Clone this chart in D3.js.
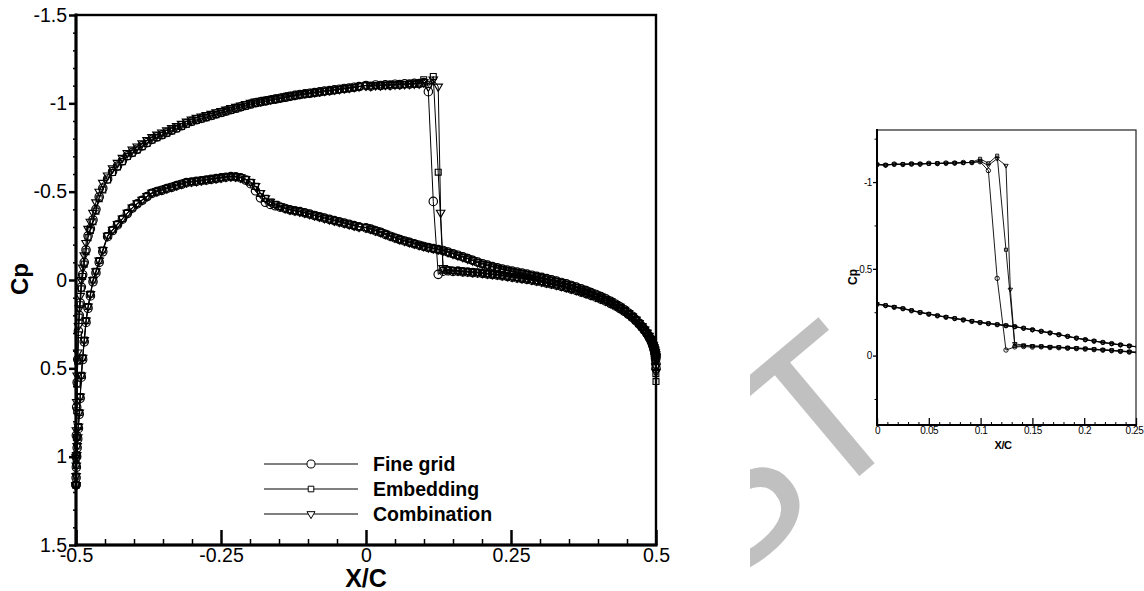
<!DOCTYPE html>
<html><head><meta charset="utf-8">
<script src="https://cdn.jsdelivr.net/npm/d3@7"></script>
<style>body{margin:0;background:#fff}svg text{font-family:"Liberation Sans",Arial,sans-serif}</style>
</head><body>
<svg id="c" width="1144" height="591"></svg>
<script>
// ---------- DATA ----------
const seriesNames = ["Fine grid", "Embedding", "Combination"];
const seriesSymbols = ["circle", "square", "triangle"];

// shared chordwise stations X/C : leading edge (19), mid (52), inset range (32), trailing part (40)
const xGrid = [
-0.5,-0.4998,-0.4994,-0.4988,-0.498,-0.497,-0.4958,-0.4944,-0.4928,-0.4908,-0.4885,-0.4858,-0.4827,-0.4792,-0.4752,-0.4707,-0.4656,-0.46,-0.4538,
-0.4455,-0.437,-0.4285,-0.42,-0.4115,-0.403,-0.3945,-0.386,-0.3775,-0.369,
-0.3605,-0.352,-0.3435,-0.335,-0.3265,-0.318,-0.3095,-0.301,-0.2925,-0.284,
-0.2755,-0.267,-0.2585,-0.25,-0.2415,-0.233,-0.2245,-0.216,-0.2075,-0.199,
-0.1905,-0.182,-0.1735,-0.165,-0.1565,-0.148,-0.1395,-0.131,-0.1225,-0.114,
-0.1055,-0.097,-0.0885,-0.08,-0.0715,-0.063,-0.0545,-0.046,-0.0375,-0.029,
-0.0205,-0.012,
0,0.0083,0.0166,0.025,0.0333,0.0416,0.05,0.0583,0.0666,0.075,
0.0833,0.0916,0.0995,0.1075,0.116,0.1245,0.1287,0.133,0.1415,0.15,
0.1585,0.167,0.1755,0.184,0.1925,0.201,0.2095,0.218,0.2265,0.235,
0.2435,0.252,
0.2605,0.269,0.2775,0.286,0.2945,0.303,0.3115,0.32,0.3285,0.337,
0.3455,0.354,0.3625,0.371,0.3795,0.388,0.3965,0.405,0.4135,0.422,
0.43,0.438,0.4455,0.4525,0.459,0.465,0.4705,0.4755,0.48,0.484,
0.4875,0.4905,0.493,0.495,0.4966,0.4978,0.4987,0.4994,0.4998,0.5];

// upper surface Cp
const cpUpFine = [
1.16,1.00,0.88,0.72,0.58,0.45,0.29,0.20,0.13,0.04,-0.03,-0.10,-0.17,-0.25,-0.29,-0.34,-0.40,-0.47,-0.52,
-0.572,-0.614,-0.645,-0.675,-0.703,-0.722,-0.740,-0.759,-0.777,-0.796,
-0.810,-0.822,-0.835,-0.848,-0.860,-0.873,-0.886,-0.898,-0.907,-0.915,
-0.923,-0.931,-0.940,-0.948,-0.956,-0.964,-0.972,-0.980,-0.988,-0.996,
-1.003,-1.008,-1.013,-1.019,-1.024,-1.029,-1.034,-1.040,-1.045,-1.050,
-1.054,-1.057,-1.061,-1.065,-1.069,-1.072,-1.076,-1.080,-1.084,-1.087,
-1.091,-1.095,
-1.100,-1.097,-1.104,-1.101,-1.105,-1.103,-1.108,-1.106,-1.110,-1.109,
-1.113,-1.112,-1.117,-1.066,-0.445,-0.032,null,-0.050,-0.052,-0.049,
-0.050,-0.046,-0.045,-0.042,-0.040,-0.037,-0.034,-0.031,-0.028,-0.024,
-0.020,-0.016,
-0.012,-0.008,-0.004,0.001,0.006,0.011,0.017,0.023,0.029,0.036,
0.043,0.051,0.059,0.068,0.077,0.087,0.097,0.108,0.120,0.133,
0.147,0.162,0.178,0.195,0.212,0.230,0.248,0.266,0.284,0.302,
0.320,0.338,0.356,0.374,0.392,0.41,0.43,0.45,0.475,0.50];
const cpUpEmb = [
1.16,1.01,0.89,0.74,0.59,0.46,0.31,0.21,0.14,0.05,-0.02,-0.09,-0.16,-0.24,-0.28,-0.33,-0.39,-0.46,-0.51,
-0.566,-0.608,-0.640,-0.670,-0.699,-0.718,-0.736,-0.755,-0.773,-0.792,
-0.806,-0.818,-0.831,-0.844,-0.856,-0.869,-0.882,-0.894,-0.903,-0.911,
-0.919,-0.927,-0.936,-0.944,-0.952,-0.960,-0.968,-0.976,-0.984,-0.992,
-0.999,-1.005,-1.010,-1.016,-1.021,-1.026,-1.031,-1.037,-1.042,-1.047,
-1.051,-1.055,-1.059,-1.063,-1.067,-1.070,-1.074,-1.078,-1.082,-1.086,
-1.090,-1.094,
-1.102,-1.099,-1.101,-1.104,-1.102,-1.106,-1.105,-1.109,-1.107,-1.111,
-1.110,-1.114,-1.134,-1.108,-1.152,-0.610,null,-0.055,-0.057,-0.054,
-0.053,-0.050,-0.048,-0.045,-0.043,-0.040,-0.036,-0.033,-0.030,-0.026,
-0.022,-0.018,
-0.014,-0.010,-0.006,-0.001,0.004,0.009,0.015,0.021,0.027,0.034,
0.041,0.049,0.057,0.066,0.075,0.085,0.095,0.106,0.118,0.131,
0.145,0.160,0.176,0.193,0.210,0.228,0.246,0.265,0.284,0.303,
0.322,0.342,0.362,0.383,0.405,0.428,0.45,0.49,0.53,0.575];
const cpUpComb = [
1.16,1.00,0.85,0.69,0.54,0.41,0.26,0.16,0.09,0.00,-0.07,-0.14,-0.21,-0.29,-0.33,-0.38,-0.44,-0.50,-0.55,
-0.592,-0.632,-0.663,-0.692,-0.719,-0.738,-0.756,-0.774,-0.792,-0.810,
-0.823,-0.835,-0.848,-0.860,-0.872,-0.884,-0.897,-0.909,-0.918,-0.926,
-0.934,-0.941,-0.950,-0.957,-0.965,-0.973,-0.980,-0.988,-0.996,-1.003,
-1.010,-1.015,-1.020,-1.025,-1.030,-1.035,-1.040,-1.045,-1.049,-1.054,
-1.058,-1.061,-1.065,-1.068,-1.072,-1.075,-1.079,-1.082,-1.086,-1.089,
-1.093,-1.097,
-1.101,-1.098,-1.103,-1.102,-1.106,-1.104,-1.107,-1.108,-1.109,-1.110,
-1.112,-1.113,-1.120,-1.096,-1.135,-1.095,-0.381,-0.068,-0.060,-0.056,
-0.054,-0.051,-0.049,-0.046,-0.044,-0.041,-0.037,-0.034,-0.031,-0.027,
-0.023,-0.019,
-0.015,-0.011,-0.007,-0.002,0.003,0.008,0.014,0.020,0.026,0.033,
0.040,0.048,0.056,0.065,0.074,0.084,0.094,0.105,0.117,0.130,
0.144,0.159,0.175,0.192,0.209,0.227,0.245,0.263,0.281,0.299,
0.317,0.335,0.353,0.371,0.390,0.41,0.43,0.46,0.49,0.52];

// lower surface Cp
const cpLoFine = [
1.16,1.12,1.06,1.00,0.95,0.90,0.84,0.76,0.67,0.55,0.45,0.35,0.24,0.16,0.09,0.01,-0.04,-0.10,-0.16,
-0.245,-0.280,-0.312,-0.344,-0.376,-0.407,-0.431,-0.451,-0.472,-0.491,
-0.500,-0.508,-0.517,-0.525,-0.534,-0.542,-0.551,-0.555,-0.558,-0.562,
-0.566,-0.570,-0.574,-0.578,-0.582,-0.585,-0.584,-0.578,-0.566,-0.545,
-0.505,-0.465,-0.440,-0.428,-0.420,-0.413,-0.405,-0.397,-0.392,-0.387,
-0.380,-0.373,-0.365,-0.358,-0.350,-0.343,-0.336,-0.329,-0.322,-0.315,
-0.308,-0.301,
-0.295,-0.288,-0.278,-0.270,-0.258,-0.248,-0.238,-0.229,-0.221,-0.213,
-0.205,-0.197,-0.190,-0.184,-0.178,-0.172,null,-0.167,-0.158,-0.149,
-0.140,-0.131,-0.121,-0.111,-0.101,-0.092,-0.084,-0.076,-0.069,-0.062,
-0.056,-0.050,
-0.045,-0.039,-0.033,-0.027,-0.021,-0.015,-0.008,-0.001,0.006,0.014,
0.022,0.031,0.040,0.050,0.060,0.071,0.082,0.094,0.107,0.121,
0.136,0.152,0.169,0.187,0.205,0.224,0.243,0.262,0.280,0.298,
0.316,0.333,0.350,0.366,0.381,0.395,0.407,0.417,0.425,0.43];
const cpLoEmb = [
1.16,1.11,1.05,0.99,0.94,0.89,0.83,0.75,0.66,0.54,0.44,0.34,0.23,0.15,0.08,0.0,-0.05,-0.11,-0.17,
-0.250,-0.284,-0.316,-0.347,-0.379,-0.409,-0.433,-0.453,-0.474,-0.493,
-0.502,-0.510,-0.519,-0.527,-0.536,-0.544,-0.553,-0.557,-0.560,-0.564,
-0.568,-0.572,-0.576,-0.580,-0.584,-0.586,-0.585,-0.580,-0.570,-0.553,
-0.530,-0.490,-0.462,-0.442,-0.428,-0.416,-0.406,-0.398,-0.393,-0.388,
-0.381,-0.374,-0.366,-0.359,-0.351,-0.344,-0.337,-0.330,-0.323,-0.316,
-0.309,-0.302,
-0.297,-0.289,-0.280,-0.271,-0.260,-0.249,-0.240,-0.230,-0.222,-0.214,
-0.206,-0.198,-0.191,-0.185,-0.179,-0.173,null,-0.166,-0.157,-0.148,
-0.139,-0.130,-0.120,-0.110,-0.100,-0.091,-0.083,-0.075,-0.068,-0.061,
-0.055,-0.049,
-0.044,-0.038,-0.032,-0.026,-0.020,-0.014,-0.007,0.000,0.007,0.015,
0.023,0.032,0.041,0.051,0.061,0.072,0.083,0.095,0.108,0.122,
0.137,0.153,0.170,0.188,0.206,0.225,0.244,0.263,0.281,0.299,
0.317,0.334,0.351,0.366,0.379,0.390,0.399,0.405,0.409,0.41];
const cpLoComb = [
1.16,1.11,1.05,0.99,0.94,0.89,0.83,0.75,0.66,0.54,0.44,0.34,0.23,0.15,0.08,0.0,-0.05,-0.11,-0.17,
-0.251,-0.285,-0.317,-0.348,-0.380,-0.410,-0.434,-0.454,-0.475,-0.494,
-0.503,-0.511,-0.520,-0.528,-0.537,-0.545,-0.554,-0.558,-0.561,-0.565,
-0.569,-0.573,-0.577,-0.581,-0.585,-0.587,-0.586,-0.581,-0.571,-0.555,
-0.532,-0.492,-0.463,-0.443,-0.429,-0.417,-0.407,-0.399,-0.393,-0.388,
-0.381,-0.374,-0.366,-0.359,-0.351,-0.344,-0.337,-0.330,-0.323,-0.316,
-0.309,-0.302,
-0.298,-0.290,-0.281,-0.272,-0.261,-0.250,-0.241,-0.231,-0.223,-0.215,
-0.207,-0.199,-0.192,-0.186,-0.180,-0.174,null,-0.167,-0.158,-0.149,
-0.140,-0.131,-0.121,-0.111,-0.101,-0.092,-0.084,-0.076,-0.069,-0.062,
-0.056,-0.050,
-0.045,-0.039,-0.033,-0.027,-0.021,-0.015,-0.008,-0.001,0.006,0.014,
0.022,0.031,0.040,0.050,0.060,0.071,0.082,0.094,0.107,0.121,
0.136,0.152,0.169,0.187,0.205,0.224,0.243,0.262,0.280,0.298,
0.316,0.333,0.350,0.366,0.381,0.395,0.408,0.42,0.435,0.45];

// axes ticks / labels
const xTicks = [-0.5, -0.25, 0, 0.25, 0.5];
const xTickLabels = ["-0.5", "-0.25", "0", "0.25", "0.5"];
const yTicks = [-1.5, -1, -0.5, 0, 0.5, 1, 1.5];
const yTickLabels = ["-1.5", "-1", "-0.5", "0", "0.5", "1", "1.5"];
const insetXTicks = [0, 0.05, 0.1, 0.15, 0.2, 0.25];
const insetXTickLabels = ["0", "0.05", "0.1", "0.15", "0.2", "0.25"];
const insetYTicks = [-1, -0.5, 0];
const insetYTickLabels = ["-1", "-0.5", "0"];
const insetYMinor = [-1.25, -0.75, -0.25, 0.25];

// ---------- DRAWING ----------
const svg = d3.select("#c");
const FONT = '"Liberation Sans", Arial, sans-serif';

// watermark (decorative)
svg.append("clipPath").attr("id", "wmclip").append("rect")
  .attr("x", 750).attr("y", 290).attr("width", 200).attr("height", 301);
const wg = svg.append("g").attr("clip-path", "url(#wmclip)")
  .append("g").attr("transform", "translate(822,416) rotate(-40)");
wg.append("text").attr("x", 0).attr("y", 70).attr("text-anchor", "middle")
  .attr("font-family", '"Liberation Serif", serif').attr("font-size", 215)
  .attr("fill", "#c0c0c0").text("T");
wg.append("text").attr("x", -128).attr("y", 70).attr("text-anchor", "middle")
  .attr("font-family", '"Liberation Serif", serif').attr("font-size", 215)
  .attr("fill", "#c0c0c0").text("S");

const series = [
  { name: seriesNames[0], sym: seriesSymbols[0], up: cpUpFine, lo: cpLoFine },
  { name: seriesNames[1], sym: seriesSymbols[1], up: cpUpEmb, lo: cpLoEmb },
  { name: seriesNames[2], sym: seriesSymbols[2], up: cpUpComb, lo: cpLoComb }
];
const pts = arr => xGrid.map((x, i) => ({ x, cp: arr[i] })).filter(d => d.cp !== null && d.cp !== undefined);

function symbolPath(type, s) {
  if (type === "circle") return d3.symbol(d3.symbolCircle, 56 * s * s)();
  if (type === "square") return d3.symbol(d3.symbolSquare, 35 * s * s)();
  return d3.symbol(d3.symbolTriangle, 31 * s * s)();
}
function drawSeries(g, xs, ys, s, lw, mw) {
  const line = d3.line().x(d => xs(d.x)).y(d => ys(d.cp));
  series.forEach(se => {
    [se.lo, se.up].forEach(arr => {
      const p = pts(arr);
      g.append("path").datum(p).attr("d", line).attr("fill", "none")
        .attr("stroke", "#000").attr("stroke-width", lw);
      const path = symbolPath(se.sym, s);
      g.selectAll(null).data(p).enter().append("path")
        .attr("d", path)
        .attr("transform", d => `translate(${xs(d.x)},${ys(d.cp)})` + (se.sym === "triangle" ? " rotate(180)" : ""))
        .attr("fill", "none").attr("stroke", "#000").attr("stroke-width", mw);
    });
  });
}

// ---- main chart ----
const x = d3.scaleLinear().domain([-0.5, 0.5]).range([76, 656]);
const y = d3.scaleLinear().domain([-1.5, 1.5]).range([15, 545]);

const main = svg.append("g");
drawSeries(main, x, y, 1, 1, 1.15);

// frame
svg.append("rect").attr("x", 76).attr("y", 15).attr("width", 580).attr("height", 530)
  .attr("fill", "none").attr("stroke", "#000").attr("stroke-width", 2.4);
svg.append("line").attr("x1", 76).attr("x2", 76).attr("y1", 13.5).attr("y2", 546.5).attr("stroke", "#000").attr("stroke-width", 3);
svg.append("line").attr("x1", 74.5).attr("x2", 657.5).attr("y1", 545).attr("y2", 545).attr("stroke", "#000").attr("stroke-width", 3);

function styleAxis(g, fs) {
  g.select(".domain").remove();
  g.selectAll("line").attr("stroke", "#000");
  g.selectAll("text").attr("font-family", FONT).attr("font-size", fs).attr("fill", "#000");
}
const xMinor = d3.range(-0.45, 0.5, 0.05).filter(v => Math.abs(v / 0.25 - Math.round(v / 0.25)) > 1e-6);
const gxm = svg.append("g").attr("transform", "translate(0,545)")
  .call(d3.axisBottom(x).tickValues(xMinor).tickSize(-6).tickFormat(""));
styleAxis(gxm, 0); gxm.selectAll("line").attr("stroke-width", 1.5);
const gx = svg.append("g").attr("transform", "translate(0,545)")
  .call(d3.axisBottom(x).tickValues(xTicks).tickFormat((d, i) => xTickLabels[i]).tickSizeInner(-15).tickSizeOuter(0).tickPadding(3));
styleAxis(gx, 19.5); gx.selectAll("line").attr("stroke-width", 2.5);

const yMinor = d3.range(-1.4, 1.5, 0.1).filter(v => Math.abs(v / 0.5 - Math.round(v / 0.5)) > 1e-6);
const gym = svg.append("g").attr("transform", "translate(76,0)")
  .call(d3.axisLeft(y).tickValues(yMinor).tickSize(3).tickFormat(""));
styleAxis(gym, 0); gym.selectAll("line").attr("stroke-width", 1.5);
const gy = svg.append("g").attr("transform", "translate(76,0)")
  .call(d3.axisLeft(y).tickValues(yTicks).tickFormat((d, i) => yTickLabels[i]).tickSizeInner(7).tickSizeOuter(0).tickPadding(2));
styleAxis(gy, 19.5); gy.selectAll("line").attr("stroke-width", 2.5);

svg.append("text").attr("transform", "translate(28,279) rotate(-90)").attr("text-anchor", "middle")
  .attr("font-family", FONT).attr("font-weight", "bold").attr("font-size", 24).text("Cp");
svg.append("text").attr("x", 366).attr("y", 587).attr("text-anchor", "middle")
  .attr("font-family", FONT).attr("font-weight", "bold").attr("font-size", 25).text("X/C");

// legend
const leg = svg.append("g");
series.forEach((se, i) => {
  const ly = 464 + 25 * i;
  leg.append("line").attr("x1", 264).attr("x2", 358).attr("y1", ly).attr("y2", ly)
    .attr("stroke", "#000").attr("stroke-width", 1);
  leg.append("path").attr("d", symbolPath(se.sym, 0.95))
    .attr("transform", `translate(311,${ly})` + (se.sym === "triangle" ? " rotate(180)" : ""))
    .attr("fill", "#fff").attr("stroke", "#000").attr("stroke-width", 1);
  leg.append("text").attr("x", 373).attr("y", ly + 7).attr("font-family", FONT)
    .attr("font-weight", "bold").attr("font-size", 19.5).text(se.name);
});

// ---- inset ----
const ix = d3.scaleLinear().domain([0, 0.25]).range([877, 1136]);
const iy = d3.scaleLinear().domain([-1.3, 0.4]).range([130, 425]);
svg.append("clipPath").attr("id", "insclip").append("rect")
  .attr("x", 877).attr("y", 130).attr("width", 259).attr("height", 295);
const ins = svg.append("g").attr("clip-path", "url(#insclip)");
drawSeries(ins, ix, iy, 0.52, 0.9, 0.9);

svg.append("rect").attr("x", 877).attr("y", 130).attr("width", 259).attr("height", 295)
  .attr("fill", "none").attr("stroke", "#222").attr("stroke-width", 1.2);
svg.append("line").attr("x1", 877).attr("x2", 877).attr("y1", 129).attr("y2", 426).attr("stroke", "#000").attr("stroke-width", 2);
svg.append("line").attr("x1", 876).attr("x2", 1137).attr("y1", 425).attr("y2", 425).attr("stroke", "#000").attr("stroke-width", 2);

const ixMinor = d3.range(0.01, 0.25, 0.01).filter(v => Math.abs(v / 0.05 - Math.round(v / 0.05)) > 1e-6);
const gixm = svg.append("g").attr("transform", "translate(0,425)")
  .call(d3.axisBottom(ix).tickValues(ixMinor).tickSize(-3).tickFormat(""));
styleAxis(gixm, 0); gixm.selectAll("line").attr("stroke-width", 1);
const gix = svg.append("g").attr("transform", "translate(0,425)")
  .call(d3.axisBottom(ix).tickValues(insetXTicks).tickFormat((d, i) => insetXTickLabels[i]).tickSizeInner(-7).tickSizeOuter(0).tickPadding(2));
styleAxis(gix, 10); gix.selectAll("line").attr("stroke-width", 1.3);
gix.selectAll("text").attr("letter-spacing", -0.4).attr("dx", (d, i) => i === insetXTicks.length - 1 ? -2 : 0);

const giym = svg.append("g").attr("transform", "translate(877,0)")
  .call(d3.axisLeft(iy).tickValues(insetYMinor).tickSize(2.5).tickFormat(""));
styleAxis(giym, 0); giym.selectAll("line").attr("stroke-width", 1);
const giy = svg.append("g").attr("transform", "translate(877,0)")
  .call(d3.axisLeft(iy).tickValues(insetYTicks).tickFormat((d, i) => insetYTickLabels[i]).tickSizeInner(4).tickSizeOuter(0).tickPadding(1));
styleAxis(giy, 10); giy.selectAll("line").attr("stroke-width", 1.3);
giy.selectAll("text").attr("letter-spacing", -0.4);

svg.append("text").attr("transform", "translate(857,277) rotate(-90)").attr("text-anchor", "middle")
  .attr("font-family", FONT).attr("font-weight", "bold").attr("font-size", 12).text("Cp");
svg.append("text").attr("x", 1003).attr("y", 449).attr("text-anchor", "middle")
  .attr("font-family", FONT).attr("font-weight", "bold").attr("font-size", 11).attr("letter-spacing", -0.5).text("X/C");
</script>
</body></html>
